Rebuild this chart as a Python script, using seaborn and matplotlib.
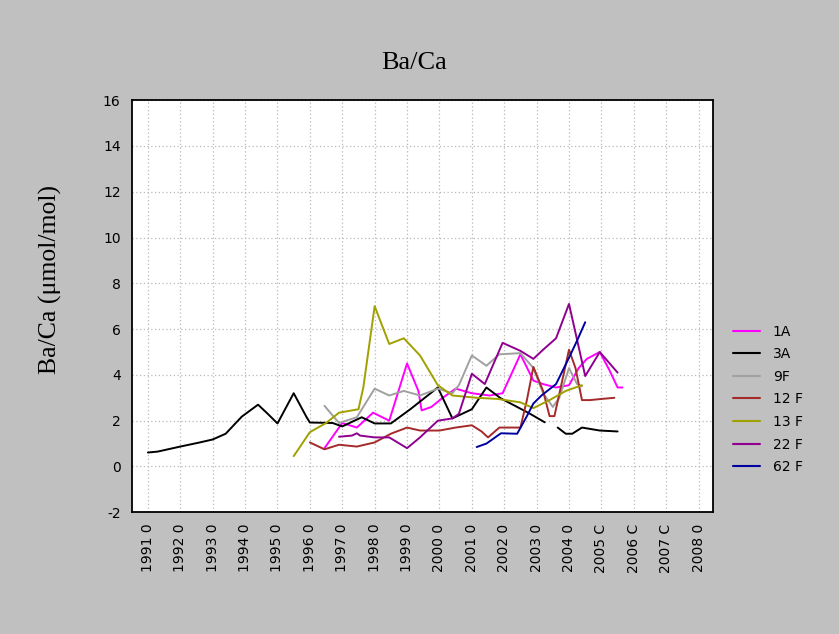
import pandas as pd
import numpy as np
import matplotlib.pyplot as plt
import seaborn as sns

# values (decimal year, Ba/Ca umol/mol)
yr_1a = [1996.45, 1997.0, 1997.45, 1997.95, 1998.45, 1999.0, 1999.35, 1999.45, 1999.75, 2000.1,
         2000.5, 2001.0, 2001.55, 2001.95, 2002.5, 2002.9, 2003.2, 2003.6, 2004.0, 2004.3,
         2004.55, 2004.95, 2005.25, 2005.5, 2005.65]
ba_1a = [0.8, 1.9, 1.7, 2.35, 2.0, 4.5, 3.3, 2.45, 2.6, 3.0,
         3.4, 3.2, 3.1, 3.2, 4.9, 3.75, 3.6, 3.45, 3.55, 4.3,
         4.7, 5.0, 4.2, 3.45, 3.45]

yr_3a = [1991.0, 1991.3, 1992.0, 1992.6, 1993.0, 1993.4, 1993.9, 1994.4, 1994.7, 1995.0,
         1995.5, 1995.9, 1996.0, 1996.7, 1997.0, 1997.6, 1998.0, 1998.5, 1999.1, 1999.95,
         2000.4, 2001.0, 2001.45, 2001.9, 2002.4, 2002.8, 2003.25]
ba_3a = [0.61, 0.65, 0.87, 1.05, 1.18, 1.43, 2.18, 2.7, 2.3, 1.88,
         3.2, 2.15, 1.92, 1.9, 1.75, 2.15, 1.88, 1.88, 2.5, 3.45,
         2.1, 2.5, 3.45, 2.97, 2.6, 2.3, 1.93]
yr_3a_b = [2003.65, 2003.9, 2004.1, 2004.4, 2004.95, 2005.5]
ba_3a_b = [1.7, 1.43, 1.43, 1.7, 1.57, 1.53]

yr_9f = [1996.45, 1996.9, 1997.45, 1998.0, 1998.45, 1998.9, 1999.4, 1999.95, 2000.4, 2000.6,
         2001.0, 2001.45, 2001.85, 2002.5, 2002.9, 2003.2, 2003.5, 2003.7, 2004.0, 2004.25, 2004.4]
ba_9f = [2.65, 1.9, 2.15, 3.4, 3.1, 3.3, 3.1, 3.4, 3.2, 3.55,
         4.85, 4.4, 4.9, 4.95, 4.3, 3.2, 2.6, 3.0, 4.3, 3.6, 3.5]

yr_12f = [1996.0, 1996.45, 1996.9, 1997.45, 1998.0, 1998.5, 1999.0, 1999.4, 2000.0, 2000.5,
          2001.0, 2001.3, 2001.5, 2001.85, 2002.5, 2002.7, 2002.9, 2003.2, 2003.4, 2003.55,
          2004.0, 2004.2, 2004.4, 2004.65, 2005.0, 2005.4]
ba_12f = [1.05, 0.75, 0.95, 0.87, 1.05, 1.43, 1.7, 1.57, 1.57, 1.7,
          1.8, 1.53, 1.27, 1.7, 1.7, 2.9, 4.35, 3.3, 2.2, 2.2,
          5.1, 4.3, 2.9, 2.9, 2.95, 3.0]

yr_13f = [1995.5, 1996.0, 1996.5, 1996.9, 1997.5, 1997.65, 1998.0, 1998.45, 1998.9, 1999.4,
          1999.95, 2000.4, 2001.15, 2001.8, 2002.5, 2002.9, 2003.4, 2003.9, 2004.4]
ba_13f = [0.45, 1.5, 1.9, 2.35, 2.5, 3.45, 7.0, 5.35, 5.6, 4.85,
          3.55, 3.1, 3.0, 2.95, 2.8, 2.55, 2.9, 3.3, 3.55]

yr_22f = [1996.9, 1997.3, 1997.45, 1997.55, 1998.0, 1998.45, 1999.0, 1999.4, 1999.95, 2000.4,
          2000.6, 2001.0, 2001.4, 2001.95, 2002.5, 2002.9, 2003.2, 2003.6, 2004.0, 2004.5,
          2004.95, 2005.5]
ba_22f = [1.3, 1.35, 1.45, 1.35, 1.27, 1.27, 0.8, 1.27, 2.0, 2.1,
          2.3, 4.05, 3.6, 5.4, 5.05, 4.7, 5.1, 5.6, 7.1, 3.95,
          5.0, 4.1]

yr_62f = [2001.15, 2001.45, 2001.9, 2002.4, 2002.7, 2002.9, 2003.15, 2003.6, 2004.0, 2004.25, 2004.5]
ba_62f = [0.85, 1.0, 1.45, 1.43, 2.2, 2.75, 3.1, 3.6, 4.75, 5.5, 6.3]

series_names = ["1A", "3A", "9F", "12 F", "13 F", "22 F", "62 F"]
series_colors = ["#ff00ff", "#000000", "#a0a0a0", "#a52a2a", "#a0a000", "#900090", "#0000a0"]
year_ticks = list(range(1991, 2009))
year_labels = ["%d 0" % y if y not in (2005, 2006, 2007) else "%d C" % y for y in year_ticks]

parts = [("1A", 0, yr_1a, ba_1a), ("3A", 0, yr_3a, ba_3a), ("3A", 1, yr_3a_b, ba_3a_b),
         ("9F", 0, yr_9f, ba_9f), ("12 F", 0, yr_12f, ba_12f), ("13 F", 0, yr_13f, ba_13f),
         ("22 F", 0, yr_22f, ba_22f), ("62 F", 0, yr_62f, ba_62f)]
df = pd.concat([pd.DataFrame({"series": n, "seg": s, "year": x, "baca": y}) for n, s, x, y in parts],
               ignore_index=True)

sns.set_style("white")
plt.rcParams["text.color"] = "black"
fig = plt.figure(figsize=(8.39, 6.34), dpi=100, facecolor="#c0c0c0")
ax = fig.add_axes([0.157, 0.192, 0.693, 0.650])
ax.set_facecolor("white")

sns.lineplot(data=df, x="year", y="baca", hue="series", hue_order=series_names,
             palette=dict(zip(series_names, series_colors)), units="seg", estimator=None,
             sort=False, linewidth=1.4, ax=ax)

ax.set_xlim(1990.5, 2008.45)
ax.set_ylim(-2, 16)
ax.set_xticks(year_ticks)
ax.set_xticklabels(year_labels, rotation=90, fontsize=10, family="DejaVu Sans")
ax.set_yticks(range(-2, 17, 2))
ax.set_yticklabels([str(v) for v in range(-2, 17, 2)], fontsize=10, family="DejaVu Sans")
ax.tick_params(axis="both", direction="in", length=3, pad=8, colors="black")
ax.grid(True, color="#b8b8b8", linestyle=(0, (1, 2)), linewidth=0.9)
for sp in ax.spines.values():
    sp.set_visible(True)
    sp.set_color("black")
    sp.set_linewidth(1.3)
ax.set_xlabel("")
ax.set_ylabel("")

fig.text(414 / 839, 1 - 63 / 634, "Ba/Ca", ha="center", va="center", color="black",
         fontsize=19, family="Liberation Serif")
fig.text(50 / 839, 1 - 280 / 634, "Ba/Ca (\u03bcmol/mol)", ha="center", va="center", color="black",
         rotation=90, fontsize=18.5, family="Liberation Serif")

leg = ax.legend(loc="upper left", bbox_to_anchor=(720 / 839, 1 - 312 / 634),
                bbox_transform=fig.transFigure, frameon=False, fontsize=10, labelcolor="black",
                handlelength=2.0, labelspacing=0.62, handletextpad=0.9)
for line in leg.get_lines():
    line.set_linewidth(1.5)

plt.savefig("out.png", dpi=100, facecolor=fig.get_facecolor())
